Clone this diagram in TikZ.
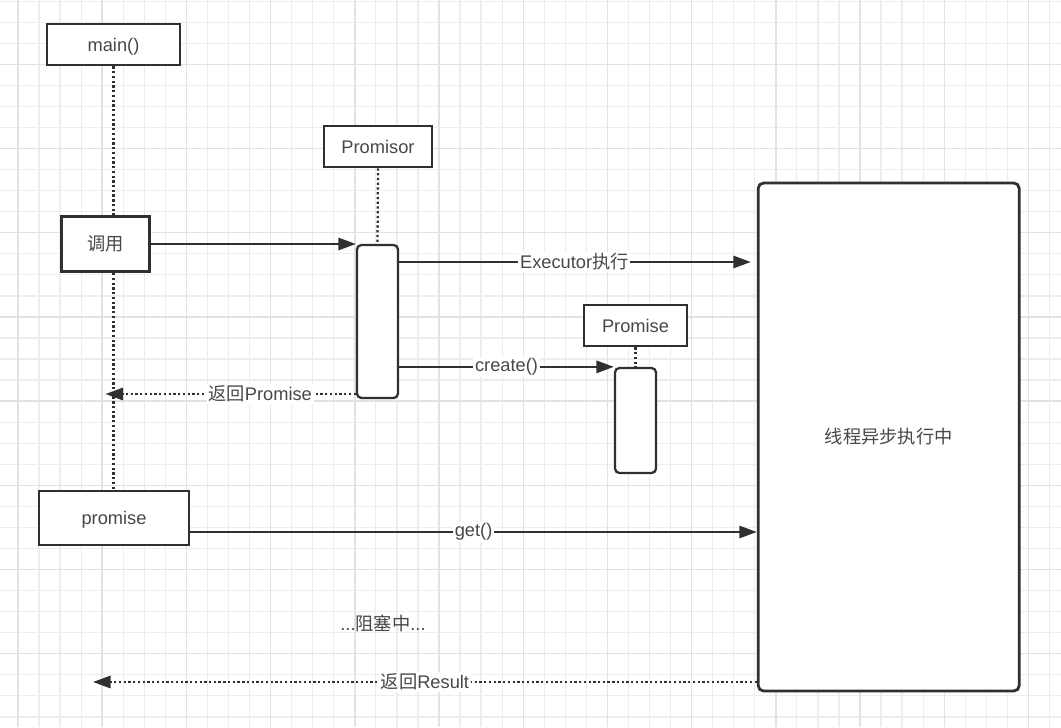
\documentclass[tikz,border=0pt]{standalone}
\usepackage{fontspec}
\setmainfont{Liberation Sans}
\newfontfamily\cjk{Noto Sans CJK SC}
\usepackage{tikz}
\usetikzlibrary{arrows.meta,backgrounds}
\definecolor{SeqInk}{HTML}{303030}
\definecolor{SeqText}{HTML}{484848}
\definecolor{SeqGrid}{HTML}{EDEDED}
\definecolor{SeqGridDark}{HTML}{E2E2E2}
\tikzset{
  msg/.style={-{Triangle[length=10pt,width=7pt]}, line width=1.25pt, draw=SeqInk},
  reply/.style={msg, dash pattern=on 1.3pt off 1.4pt},
  lifeline/.style={draw=SeqInk, line width=1.3pt, dash pattern=on 1.3pt off 1.4pt},
  actor/.style={draw=SeqInk, fill=white, line width=1.6pt, text=SeqText, inner sep=0pt,
                text height=0.95em, text depth=0.2em},
  activation/.style={draw=SeqInk, fill=white, line width=1.3pt, rounded corners=2.5pt,
                     minimum width=0.82cm, inner sep=0pt},
  tag/.style={fill=white, text=SeqText, inner sep=1pt},
  gridline/.style={draw=SeqGrid, line width=0.7pt},
  gridmajor/.style={draw=SeqGridDark, line width=0.8pt},
}

\begin{document}
\begin{tikzpicture}[x=0.02cm,y=-0.02cm,font=\fontsize{10.4}{12.5}\selectfont]
  \useasboundingbox (0,0) rectangle (1061,727);
  % participants
  \node[actor, minimum width=2.66cm, minimum height=0.82cm] (main) at (113.5,44.5) {main()};
  \node[actor, minimum width=1.76cm, minimum height=1.11cm] (call) at (105.7,244) {\cjk 调用};
  \node[actor, minimum width=2.16cm, minimum height=0.82cm] (promisor) at (378,146.5) {Promisor};
  \node[activation, minimum height=3.06cm] (act) at (377.5,321.5) {};
  \node[actor, minimum width=2.06cm, minimum height=0.82cm] (pobj) at (635.5,325.5) {Promise};
  \node[activation, minimum height=2.10cm] (pact) at (635.5,420.5) {};
  \node[actor, minimum width=3.0cm, minimum height=1.08cm] (promise) at (114,518) {promise};
  \node[actor, rounded corners=3pt, minimum width=5.22cm, minimum height=10.16cm] (exec) at (888.7,437) {\cjk 线程异步执行中};
  \node[text=SeqText] (wait) at (383,623) {...{\cjk 阻塞中}...};

  % lifelines
  \draw[lifeline] (main.south) -- (main.south |- call.north);
  \draw[lifeline] (main.south |- call.south) -- (main.south |- promise.north);
  \draw[lifeline] (promisor.south) -- (act.north);
  \draw[lifeline] (pobj.south) -- (pact.north);

  % messages
  \coordinate (execY) at (0,262);
  \coordinate (retY) at (0,394);
  \coordinate (getY) at (0,532);
  \coordinate (resEnd) at (93,682);
  \draw[msg] (call.east) -- (call.east -| act.west);
  \draw[msg, shorten >=0.12cm] (act.east |- execY) -- (exec.west |- execY)
    node[tag, pos=0.49] {Executor{\cjk 执行}};
  \draw[msg] (pact.north west -| act.east) -- (pact.north west)
    node[tag, midway] {create()};
  \draw[reply, shorten >=-0.16cm] (act.west |- retY) -- (main.south |- retY)
    node[tag, pos=0.395] {{\cjk 返回}Promise};
  \draw[msg] (promise.east |- getY) -- (exec.west |- getY)
    node[tag, midway] {get()};
  \draw[reply] (exec.west |- resEnd) -- (resEnd)
    node[tag, midway] {{\cjk 返回}Result};

  % paper grid
  \begin{scope}[on background layer]
    \fill[white] (0,0) rectangle (1061,727);
    \foreach \k in {0,...,49}
      \draw[gridline] ({18+21.05*\k},0) -- ({18+21.05*\k},727);
    \foreach \k in {0,...,34}
      \draw[gridline] (0,{1.2+21.05*\k}) -- (1061,{1.2+21.05*\k});
    \foreach \k in {0,...,12}
      \draw[gridmajor] ({18+84.2*\k},0) -- ({18+84.2*\k},727);
    \foreach \k in {0,...,7}
      \draw[gridmajor] (0,{64.3+84.2*\k}) -- (1061,{64.3+84.2*\k});
  \end{scope}
\end{tikzpicture}
\end{document}
